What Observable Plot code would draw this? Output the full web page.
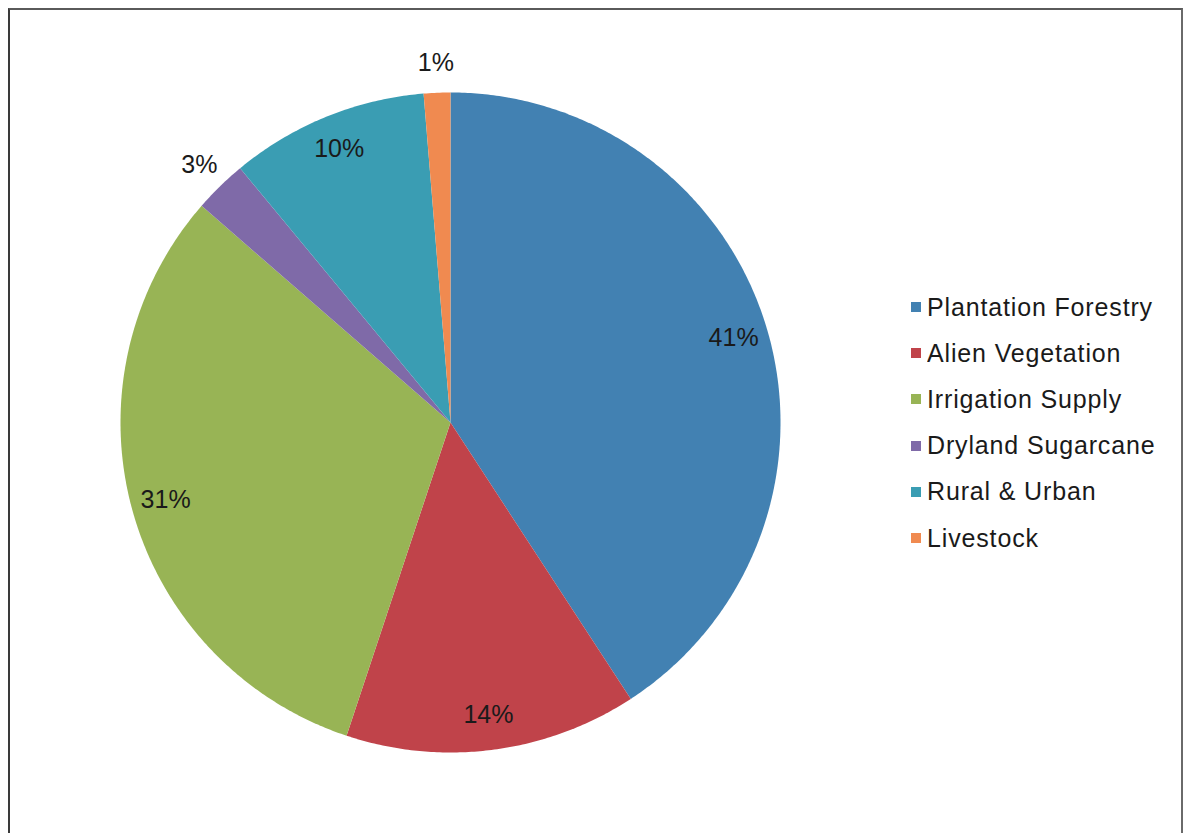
<!DOCTYPE html>
<html>
<head>
<meta charset="utf-8">
<script src="https://cdn.jsdelivr.net/npm/d3@7"></script>
<script src="https://cdn.jsdelivr.net/npm/@observablehq/plot@0.6"></script>
<style>
  html, body { margin: 0; padding: 0; background: #fff; }
  #wrap { position: relative; width: 1183px; height: 833px; overflow: hidden; font-family: "Liberation Sans", Arial, sans-serif; }
  #frame { position: absolute; left: 8px; top: 8px; width: 1171px; height: 900px;
           border-left: 2px solid #3a3a3a; border-top: 2px solid #5a5a5a; border-right: 2px solid #6a6a6a; }
  #chart { position: absolute; left: 0; top: 0; }
  #legend { position: absolute; left: 911px; top: 284px; }
  .lg-swatches { font-family: "Liberation Sans", Arial, sans-serif !important; font-size: 25px !important; letter-spacing: 0.85px; color: #1a1a1a !important; }
  .lg-swatch { padding-bottom: 0 !important; height: 46.2px; display: flex; align-items: center; margin: 0 !important; }
  .lg-swatch svg { margin-right: 6px !important; }
</style>
</head>
<body>
<div id="wrap">
  <div id="frame"></div>
  <div id="chart"></div>
  <div id="legend"></div>
</div>
<script>
const categories = ["Plantation Forestry", "Alien Vegetation", "Irrigation Supply", "Dryland Sugarcane", "Rural & Urban", "Livestock"];
const values = [40.8, 14.3, 31.3, 2.6, 9.7, 1.3];
const labels = ["41%", "14%", "31%", "3%", "10%", "1%"];
const colors = ["#4281b2", "#c0434a", "#98b455", "#7f6aa8", "#3a9db3", "#f08a50"];
const outsideLabel = [false, false, false, true, false, true];

const total = d3.sum(values);
let cum = 0;
const slices = categories.map((c, i) => {
  const a0 = cum / total * 2 * Math.PI;
  cum += values[i];
  const a1 = cum / total * 2 * Math.PI;
  return {category: c, a0, a1, label: labels[i], outside: outsideLabel[i]};
});

// polygon outline points for each slice (unit circle, angle clockwise from top)
const pts = [];
for (const s of slices) {
  pts.push({category: s.category, x: 0, y: 0});
  const n = Math.max(2, Math.ceil((s.a1 - s.a0) / (Math.PI / 360)));
  for (let k = 0; k <= n; k++) {
    const a = s.a0 + (s.a1 - s.a0) * k / n;
    pts.push({category: s.category, x: Math.sin(a), y: Math.cos(a)});
  }
  pts.push({category: s.category, x: 0, y: 0});
}

const labelPts = slices.map(s => {
  const m = (s.a0 + s.a1) / 2;
  const r = s.outside ? 1.09 : 0.895;
  return {x: r * Math.sin(m), y: r * Math.cos(m), label: s.label};
});

const cx = 450, cy = 422, R = 330;
const chart = Plot.plot({
  width: 1183, height: 833,
  margin: 0,
  style: {background: "transparent"},
  x: {domain: [-1, 1], range: [cx - R, cx + R], axis: null},
  y: {domain: [-1, 1], range: [cy + R, cy - R], axis: null},
  color: {type: "ordinal", domain: categories, range: colors},
  marks: [
    Plot.line(pts, {x: "x", y: "y", z: "category", fill: "category", stroke: "none", curve: "linear"}),
    Plot.text(labelPts, {x: "x", y: "y", text: "label", fontSize: 25, fill: "#1a1a1a", fontFamily: "Liberation Sans, Arial, sans-serif"})
  ]
});
document.getElementById("chart").appendChild(chart);

const legend = Plot.legend({
  color: {type: "ordinal", domain: categories, range: colors},
  legend: "swatches",
  columns: 1,
  swatchSize: 10,
  className: "lg"
});
document.getElementById("legend").appendChild(legend);
</script>
</body>
</html>
